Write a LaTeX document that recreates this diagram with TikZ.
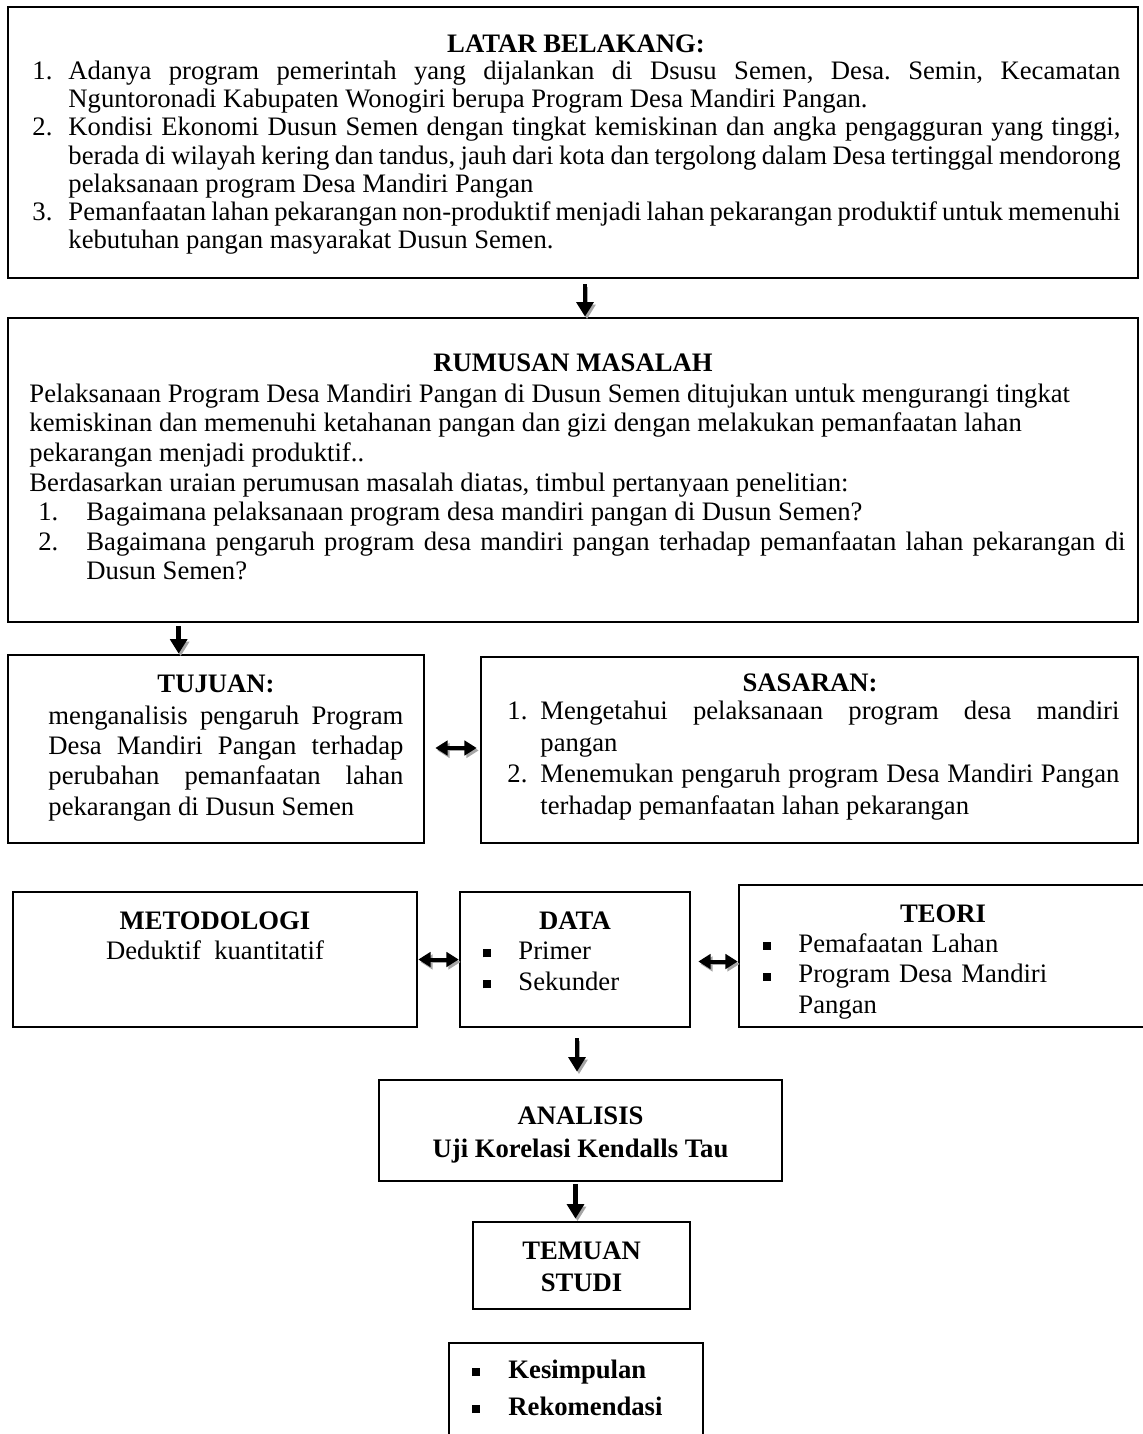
\documentclass[tikz,border=0pt]{standalone}
\usepackage{fontspec}
\setmainfont{Liberation Serif}
\usetikzlibrary{arrows.meta,fit,calc}

\tolerance=9999
\hyphenpenalty=10000
\frenchspacing

\newcommand{\itm}[3]{\hangindent=#1\hangafter=1\noindent\strut\makebox[#1][l]{#2}#3\par}
\newcommand{\sqb}{\rule[0.08em]{0.3em}{0.3em}}

\tikzset{
  box/.style={draw, line width=1.2pt, inner sep=0pt},
  ttl/.style={anchor=base, inner sep=0pt, font=\fontsize{12}{14}\selectfont\bfseries},
  txt/.style={anchor=north west, inner sep=0pt, align=justify},
  shd/.style={preaction={draw=black!35, transform canvas={shift={(0.9pt,-1.1pt)}}}},
  arr/.style={line width=2.2pt, -{Triangle[length=6.5pt,width=7.5pt]}, shd},
  darr/.style={line width=1.8pt, {Triangle[length=5.5pt,width=6.5pt]}-{Triangle[length=5.5pt,width=6.5pt]}, shd}
}

\begin{document}
\begin{tikzpicture}[x=0.45pt, y=-0.45pt]
            \useasboundingbox (0,0) rectangle (1143,1434);

            \node[box, fit={(8,7) (1138,278)}] (latar) {};
            \node[box, fit={(8,318) (1138,622)}] (rumusan) {};
            \node[box, fit={(8,655) (424,843)}] (tujuan) {};
            \node[box, fit={(481,657) (1138,843)}] (sasaran) {};
            \node[box, fit={(13,892) (417,1027)}] (metodologi) {};
            \node[box, fit={(460,892) (690,1027)}] (data) {};
            \node[box, fit={(739,885) (1147,1027)}] (teori) {};
            \node[box, fit={(379,1080) (782,1181)}] (analisis) {};
            \node[box, fit={(473,1222) (690,1309)}] (temuan) {};
            \node[box, fit={(449,1343) (703,1450)}] (hasil) {};

            \node[ttl] (latarT) at (576,53) {LATAR BELAKANG:};
            \node[txt, text width=489.6pt, font=\fontsize{12}{12.7}\selectfont] (latarB) at (32,59.3) {%
              \itm{16.2pt}{1.}{Adanya program pemerintah yang dijalankan di Dsusu Semen, Desa. Semin, Kecamatan\linebreak Nguntoronadi Kabupaten Wonogiri berupa Program Desa Mandiri Pangan.}%
              \itm{16.2pt}{2.}{Kondisi Ekonomi Dusun Semen dengan tingkat kemiskinan dan angka pengagguran yang tinggi,\linebreak berada di wilayah kering dan tandus, jauh dari kota dan tergolong dalam Desa tertinggal mendorong\linebreak pelaksanaan program Desa Mandiri Pangan}%
              \itm{16.2pt}{3.}{Pemanfaatan lahan pekarangan non-produktif menjadi lahan pekarangan produktif untuk memenuhi\linebreak kebutuhan pangan masyarakat Dusun Semen.}};

            \node[ttl] (rumusanT) at (573,372) {RUMUSAN MASALAH};
            \node[txt, text width=493.2pt, font=\fontsize{12}{13.3}\selectfont] (rumusanB) at (29,381.3) {%
              \noindent\strut Pelaksanaan Program Desa Mandiri Pangan di Dusun Semen ditujukan untuk mengurangi tingkat\newline kemiskinan dan memenuhi ketahanan pangan dan gizi dengan melakukan pemanfaatan lahan\newline pekarangan menjadi produktif..\par
              \noindent Berdasarkan uraian perumusan masalah diatas, timbul pertanyaan penelitian:\par
              \itm{25.65pt}{\hspace{4pt}1.}{Bagaimana pelaksanaan program desa mandiri pangan di Dusun Semen?}%
              \itm{25.65pt}{\hspace{4pt}2.}{Bagaimana pengaruh program desa mandiri pangan terhadap pemanfaatan lahan pekarangan di\linebreak Dusun Semen?}};

            \node[ttl] (tujuanT) at (216,692) {TUJUAN:};
            \node[txt, text width=159.75pt, font=\fontsize{12}{13.6}\selectfont] (tujuanB) at (48,702.8) {%
              \noindent\strut menganalisis pengaruh Program\linebreak Desa Mandiri Pangan terhadap\linebreak perubahan pemanfaatan lahan\linebreak pekarangan di Dusun Semen};

            \node[ttl] (sasaranT) at (810,691) {SASARAN:};
            \node[txt, text width=275.4pt, font=\fontsize{12}{14.2}\selectfont] (sasaranB) at (507,697) {%
              \itm{14.85pt}{1.}{Mengetahui pelaksanaan program desa mandiri\linebreak pangan}%
              \itm{14.85pt}{2.}{Menemukan pengaruh program Desa Mandiri Pangan\linebreak terhadap pemanfaatan lahan pekarangan}};

            \node[ttl] (metodologiT) at (215,929) {METODOLOGI};
            \node[anchor=base, inner sep=0pt, font=\fontsize{12}{14}\selectfont] (metodologiB) at (215,959) {Deduktif\ \ kuantitatif};

            \node[ttl] (dataT) at (575,929) {DATA};
            \node[txt, align=left, text width=90pt, font=\fontsize{12}{14}\selectfont] (dataB) at (483,937.2) {%
              \itm{15.75pt}{\sqb}{Primer}\itm{15.75pt}{\sqb}{Sekunder}};

            \node[ttl] (teoriT) at (943,922) {TEORI};
            \begin{scope}
              \clip (teori.north west) rectangle ($(teori.south east)+(0,-3)$);
              \node[txt, align=left, text width=170pt, font=\fontsize{12}{13.9}\selectfont] (teoriB) at (763,930) {%
                \itm{15.75pt}{\sqb}{Pemafaatan Lahan}\itm{15.75pt}{\sqb}{Program Desa Mandiri\newline Pangan}};
            \end{scope}

            \node[ttl] (analisisT) at (580.5,1124) {ANALISIS};
            \node[ttl] (analisisB) at (580.5,1157) {Uji Korelasi Kendalls Tau};

            \node[ttl] (temuanT) at (581.5,1259) {TEMUAN};
            \node[ttl] (temuanB) at (581.5,1291) {STUDI};

            \node[txt, align=left, text width=105pt, font=\fontsize{12}{16.65}\selectfont\bfseries] (hasilB) at (472,1352) {%
              \itm{16.2pt}{\sqb}{Kesimpulan}\itm{16.2pt}{\sqb}{Rekomendasi}};

            \coordinate (a1) at ($(latar.south)+(12,5)$);
            \coordinate (a2) at ($(rumusan.south west)+(172,3)$);
            \coordinate (a3) at ($(data.south)+(2,10)$);
            \coordinate (a4) at ($(analisis.south)+(-5,2)$);
            \coordinate (d1) at ($(tujuan.east)+(10,-1)$);
            \coordinate (d3) at ($(data.east)+(7,2)$);

            \draw[arr] (a1) -- (a1 |- rumusan.north);
            \draw[arr] (a2) -- (a2 |- tujuan.north);
            \draw[arr] (a3) -- ($(a3 |- analisis.north)+(0,-7)$);
            \draw[arr] (a4) -- ($(a4 |- temuan.north)+(0,-2)$);
            \draw[darr] (d1) -- ($(d1 -| sasaran.west)+(-3,0)$);
            \draw[darr] (metodologi.east) -- (metodologi.east -| data.west);
            \draw[darr] (d3) -- (d3 -| teori.west);
\end{tikzpicture}
\end{document}
